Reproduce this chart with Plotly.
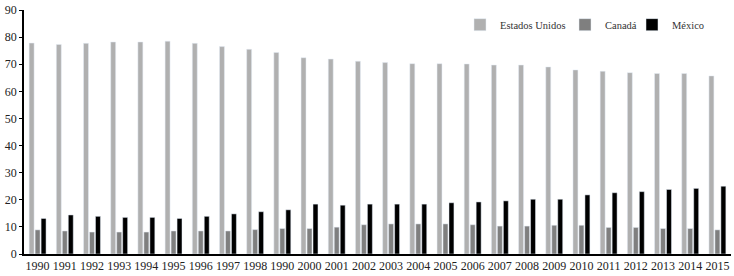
import plotly.graph_objects as go

years = ["1990", "1991", "1992", "1993", "1994", "1995", "1996", "1997", "1998", "1990",
         "2000", "2001", "2002", "2003", "2004", "2005", "2006", "2007", "2008", "2009",
         "2010", "2011", "2012", "2013", "2014", "2015"]

estados_unidos = [77.8, 77.3, 77.7, 78.2, 78.2, 78.5, 77.7, 76.5, 75.5, 74.3,
                  72.4, 71.9, 71.1, 70.6, 70.2, 70.2, 70.1, 69.7, 69.7, 69.0,
                  67.9, 67.4, 66.9, 66.6, 66.6, 65.7]

canada = [8.9, 8.5, 8.1, 8.1, 8.1, 8.5, 8.5, 8.5, 9.0, 9.4,
          9.4, 9.9, 10.8, 11.1, 11.1, 11.1, 10.8, 10.3, 10.3, 10.6,
          10.6, 9.8, 9.8, 9.4, 9.4, 8.9]

mexico = [13.1, 14.4, 13.9, 13.5, 13.5, 13.1, 13.9, 14.8, 15.6, 16.3,
          18.4, 18.0, 18.4, 18.4, 18.4, 18.9, 19.2, 19.6, 20.2, 20.2,
          21.8, 22.6, 23.0, 23.8, 24.2, 25.0]

x = list(range(len(years)))
font_family = "Liberation Serif"

fig = go.Figure()
fig.add_trace(go.Bar(x=x, y=estados_unidos, name="Estados Unidos", marker_color="#b0b0b0",
                     legend="legend", showlegend=True))
fig.add_trace(go.Bar(x=x, y=canada, name="Canadá", marker_color="#7f7f7f", legend="legend2",
                     showlegend=True))
fig.add_trace(go.Bar(x=x, y=mexico, name="México", marker_color="#000000", legend="legend3",
                     showlegend=True))

def leg(xpos):
    return dict(orientation="h", x=xpos, y=0.94, xanchor="left", yanchor="middle",
                font=dict(size=10.5, color="#333"), itemwidth=30,
                bgcolor="rgba(0,0,0,0)")

fig.update_layout(
    width=734, height=276,
    margin=dict(l=24, r=3, t=7, b=21),
    paper_bgcolor="white", plot_bgcolor="white",
    showlegend=True,
    barmode="group", bargap=0.34, bargroupgap=0.17,
    font=dict(family=font_family, size=12, color="#222"),
    legend=leg((460 - 24) / 707),
    legend2=leg((565 - 24) / 707),
    legend3=leg((632 - 24) / 707),
    xaxis=dict(tickmode="array", tickvals=x, ticktext=years, range=[-0.5, len(years) - 0.5],
               showline=True, linecolor="black", linewidth=1.5, ticks="", showgrid=False,
               zeroline=False),
    yaxis=dict(range=[0, 90], dtick=10, showline=True, linecolor="black", linewidth=1.5,
               ticks="outside", ticklen=3, tickcolor="black", showgrid=False, zeroline=False),
)

fig.write_html("out.html", post_script="document.body.style.margin='0';",
               config={"displayModeBar": False})
